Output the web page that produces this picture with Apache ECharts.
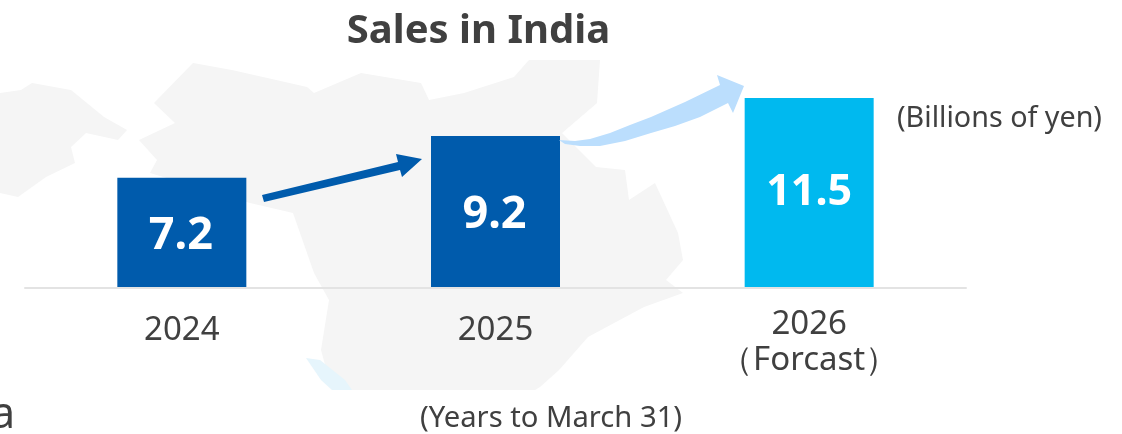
<!DOCTYPE html>
<html><head><meta charset="utf-8">
<style>html,body{margin:0;padding:0;background:#fff}#c{width:1122px;height:434px}</style>
<script src="https://cdn.jsdelivr.net/npm/echarts@6/dist/echarts.min.js"></script>
</head><body><div id="c"></div>
<script>
const categories = ['2024', '2025', '2026\n（Forcast）'];
const values = [7.2, 9.2, 11.5];
const barColors = ['#005BAC', '#005BAC', '#00B9EF'];
const titleText = 'Sales in India';
const unitText = '(Billions of yen)';
const noteText = '(Years to March 31)';
const FONT = '"Noto Sans", sans-serif';
const TEXT = '#404040';
const MAP = '#F5F5F5';

const chart = echarts.init(document.getElementById('c'), null, {renderer: 'canvas'});
function poly(points, fill, z) { return {type: 'polygon', z: z, silent: true, shape: {points: points}, style: {fill: fill}}; }
chart.setOption({
  animation: false,
  backgroundColor: '#fff',
  title: [
    {text: titleText, left: 473.5, top: 7, textAlign: 'center', textStyle: {fontFamily: FONT, fontSize: 40, fontWeight: 'bold', color: TEXT}},
    {text: unitText, left: 892, top: 99, textStyle: {fontFamily: FONT, fontSize: 28.7, fontWeight: 'normal', color: TEXT}},
    {text: noteText, left: 546, top: 399, textAlign: 'center', textStyle: {fontFamily: FONT, fontSize: 29.2, fontWeight: 'normal', color: TEXT}}
  ],
  grid: {left: 25, right: 156, top: 98, bottom: 147},
  xAxis: {
    type: 'category', data: categories, offset: 1,
    axisTick: {show: false},
    axisLine: {lineStyle: {color: '#E3E3E3', width: 2}},
    axisLabel: {
      fontFamily: FONT, fontSize: 33, color: TEXT, margin: 19, lineHeight: 36, interval: 0,
      formatter: v => v.includes('\n') ? v : '{s|' + v + '}',
      rich: {s: {fontFamily: FONT, fontSize: 33, color: TEXT, padding: [12, 0, 0, 0]}}
    }
  },
  yAxis: {type: 'log', logBase: 10, min: 3.796, max: 11.5, show: false, splitLine: {show: false}},
  series: [{
    type: 'bar', barWidth: 129, z: 5,
    data: values.map((v, i) => ({value: v, itemStyle: {color: barColors[i]},
      label: i === 2 ? {fontSize: 43, offset: [0, 0]} : {offset: [-1, 4]}})),
    label: {show: true, position: 'inside', fontFamily: FONT, fontSize: 45, fontWeight: 'bold', color: '#fff',
      formatter: p => p.value.toFixed(1)}
  }],
  graphic: [
    poly([[0,93],[21,90],[32,83],[71,90],[104,117],[127,130],[118,140],[86,133],[71,147],[75,163],[46,177],[18,197],[0,193]], MAP, 0),
    poly([[193,63],[232,70],[307,87],[314,93],[361,73],[421,83],[429,100],[464,93],[514,77],[529,60],[600,60],[597,103],[562,133],[596,167],[625,170],[629,200],[655,183],[678,233],[683,260],[666,280],[683,293],[644,307],[588,337],[559,370],[540,387],[535,390],[332,390],[321,350],[329,300],[314,273],[293,213],[250,203],[150,173],[157,160],[139,140],[175,123],[154,103]], MAP, 0),
    poly([[306,358],[320,360],[345,380],[352,390],[332,390],[321,380]], '#E6F5FC', 1),
    poly([[262,195],[398,162],[396,154],[422,159],[402,177],[400,170],[264,202]], '#005BAC', 10),
    poly([[559,140],[575,141],[590,139],[610,133],[630,125],[651,117],[685,102],[720,85],[717,75],[744,86],[733,113],[728,103],[700,117],[675,126],[651,133],[625,141],[600,146],[580,146],[565,144]], '#BBDEFD', 10),
    {type: 'text', z: 10, silent: true, left: -9, top: 394, style: {text: 'a', font: '43px ' + FONT, fill: TEXT}}
  ]
});
</script></body></html>
